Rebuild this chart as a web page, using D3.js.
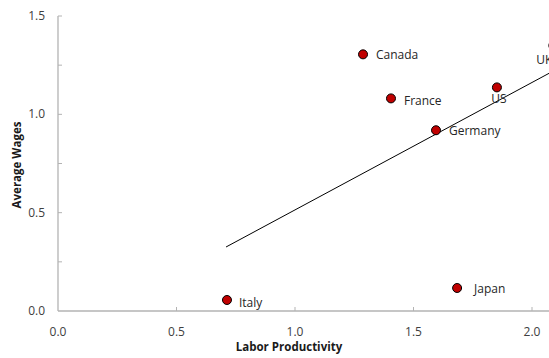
<!DOCTYPE html>
<html>
<head>
<meta charset="utf-8">
<script src="https://cdn.jsdelivr.net/npm/d3@7"></script>
<style>
  html, body { margin: 0; padding: 0; background: #fff; }
  svg { display: block; font-family: "Open Sans", "Noto Sans", sans-serif; }
</style>
</head>
<body>
<svg id="chart" width="549" height="358"></svg>
<script>
// Country observations: labor productivity vs. average wages
const countries    = ["Canada", "France", "Germany", "US", "UK", "Italy", "Japan"];
const productivity = [1.287, 1.405, 1.595, 1.852, 2.09, 0.713, 1.684];
const wages        = [1.305, 1.081, 0.919, 1.137, 1.35, 0.056, 0.117];

// Fitted trend line: wages = intercept + slope * productivity
const trendIntercept = -0.134;
const trendSlope = 0.648;
const trendRange = [0.709, 2.09];

const xTicks = [0, 0.5, 1.0, 1.5, 2.0];
const yTicks = [0, 0.5, 1.0, 1.5];
const yMinorTicks = [0.25, 0.75, 1.25];

// label placement relative to each point (dx, dy, anchor)
const labelPlacement = {
  Canada:  [13, 5, "start"],
  France:  [13, 7, "start"],
  Germany: [13, 5, "start"],
  US:      [2, 16, "middle"],
  UK:      [-9, 18, "middle"],
  Italy:   [12, 7, "start"],
  Japan:   [17, 5, "start"]
};

const svg = d3.select("#chart");
const plotLeft = 58, plotTop = 16, plotBottom = 311;
const unitX = 237;

const x = d3.scaleLinear().domain([0, 2.5]).range([plotLeft, plotLeft + 2.5 * unitX]);
const y = d3.scaleLinear().domain([0, 1.5]).range([plotBottom, plotTop]);

// subtitle line above the plot
svg.append("text")
  .attr("x", 4).attr("y", -3)
  .attr("fill", "#5b9bd5")
  .attr("font-size", 12)
  .text("(Japan = 1, average wages)");

// axes
const axisColor = "#b3b3b3";
svg.append("line")
  .attr("x1", x(0)).attr("x2", x(2.5))
  .attr("y1", y(0)).attr("y2", y(0))
  .attr("stroke", axisColor).attr("stroke-width", 1.3);
svg.append("line")
  .attr("x1", x(0)).attr("x2", x(0))
  .attr("y1", y(0)).attr("y2", y(1.5))
  .attr("stroke", axisColor).attr("stroke-width", 1.3);

// inward tick marks
svg.selectAll(".xtick").data(xTicks.filter(d => d > 0)).join("line")
  .attr("class", "xtick")
  .attr("x1", d => x(d)).attr("x2", d => x(d))
  .attr("y1", y(0)).attr("y2", y(0) - 4)
  .attr("stroke", axisColor);
svg.selectAll(".ytick").data(yTicks.concat(yMinorTicks).filter(d => d > 0)).join("line")
  .attr("class", "ytick")
  .attr("x1", x(0)).attr("x2", x(0) + 4)
  .attr("y1", d => y(d)).attr("y2", d => y(d))
  .attr("stroke", axisColor);

const fmt = d3.format(".1f");
svg.selectAll(".xlabel").data(xTicks).join("text")
  .attr("class", "xlabel")
  .attr("x", d => x(d)).attr("y", 336)
  .attr("text-anchor", "middle")
  .attr("font-size", 12).attr("fill", "#404040")
  .text(fmt);
svg.selectAll(".ylabel").data(yTicks).join("text")
  .attr("class", "ylabel")
  .attr("x", 45).attr("y", d => y(d) + 4)
  .attr("text-anchor", "end")
  .attr("font-size", 12).attr("fill", "#404040")
  .text(fmt);

// axis titles
svg.append("text")
  .attr("x", 289).attr("y", 351)
  .attr("text-anchor", "middle")
  .attr("font-size", 11.5).attr("font-weight", "bold").attr("fill", "#1a1a1a")
  .text("Labor Productivity");
svg.append("text")
  .attr("transform", "translate(21,165) rotate(-90)")
  .attr("text-anchor", "middle")
  .attr("font-size", 11.5).attr("font-weight", "bold").attr("fill", "#1a1a1a")
  .text("Average Wages");

// trend line
svg.append("line")
  .attr("x1", x(trendRange[0])).attr("y1", y(trendIntercept + trendSlope * trendRange[0]))
  .attr("x2", x(trendRange[1])).attr("y2", y(trendIntercept + trendSlope * trendRange[1]))
  .attr("stroke", "#000").attr("stroke-width", 1);

// points and labels
const data = countries.map((c, i) => ({ name: c, px: productivity[i], wy: wages[i] }));
svg.selectAll(".pt").data(data).join("circle")
  .attr("class", "pt")
  .attr("cx", d => x(d.px)).attr("cy", d => y(d.wy))
  .attr("r", 4.5)
  .attr("fill", "#c00000").attr("stroke", "#000").attr("stroke-width", 1);
svg.selectAll(".lbl").data(data).join("text")
  .attr("class", "lbl")
  .attr("x", d => x(d.px) + labelPlacement[d.name][0])
  .attr("y", d => y(d.wy) + labelPlacement[d.name][1])
  .attr("text-anchor", d => labelPlacement[d.name][2])
  .attr("font-size", 12).attr("fill", "#262626")
  .text(d => d.name);
</script>
</body>
</html>
